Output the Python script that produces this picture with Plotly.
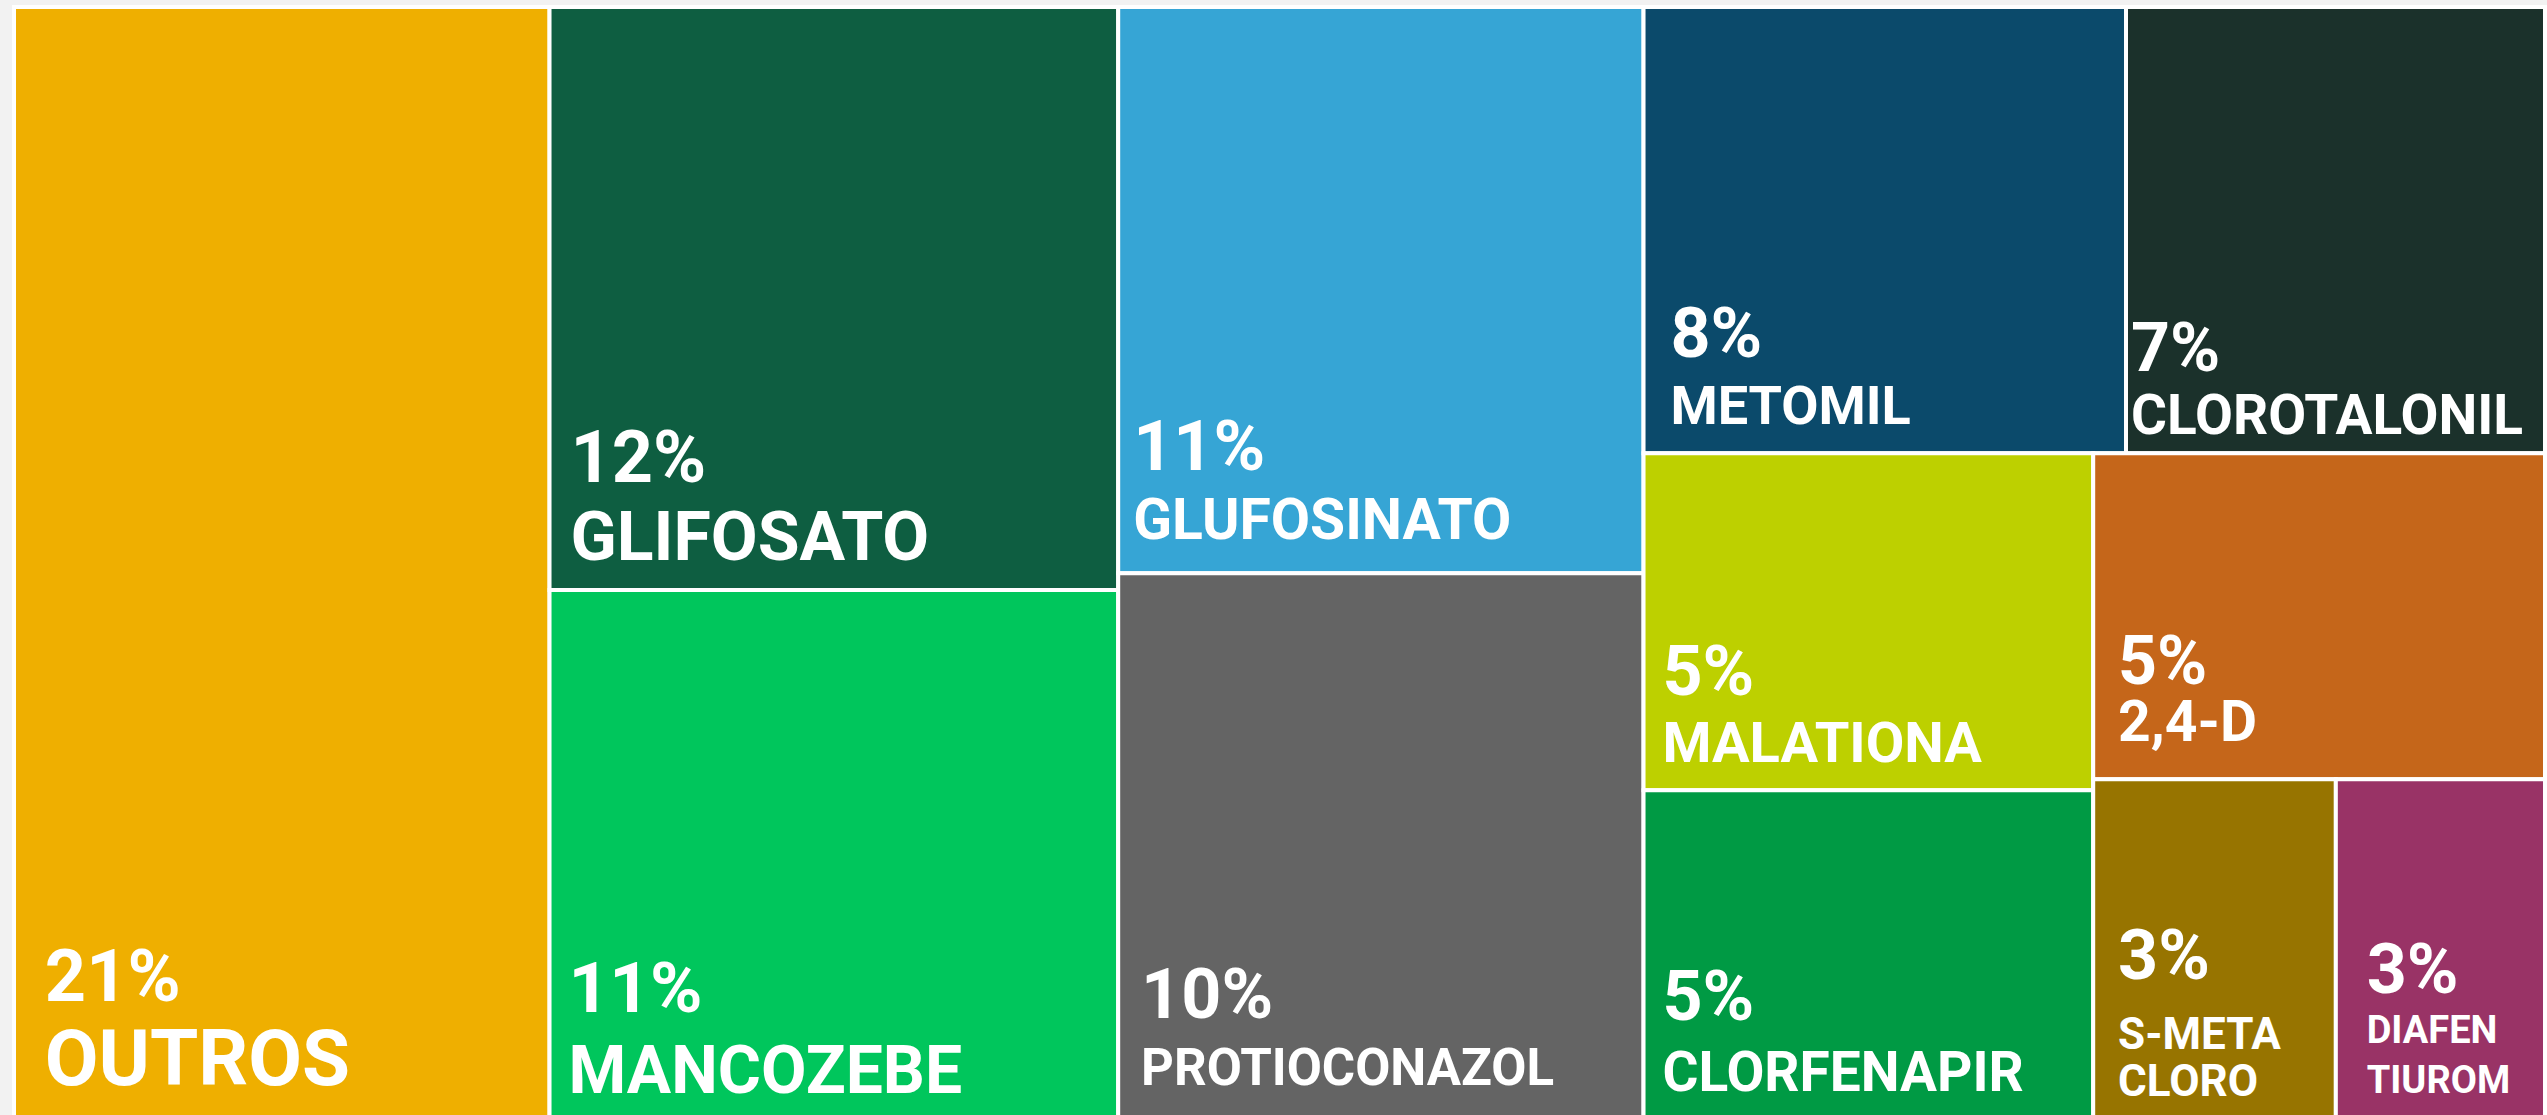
import plotly.graph_objects as go

# ---- data ----
names = ["OUTROS", "GLIFOSATO", "MANCOZEBE", "GLUFOSINATO", "PROTIOCONAZOL",
         "METOMIL", "CLOROTALONIL", "MALATIONA", "CLORFENAPIR", "2,4-D",
         "S-META CLORO", "DIAFEN TIUROM"]
shares = [21.0, 11.7, 10.6, 10.5, 10.1, 7.6, 6.6, 5.35, 5.2, 5.2, 2.9, 2.5]
pct_labels = [21, 12, 11, 11, 10, 8, 7, 5, 5, 5, 3, 3]

# ---- styles ----
colors = ["#EFAF00", "#0E5E41", "#00C65C", "#36A5D5", "#646464", "#0B4A6B",
          "#1B312B", "#BDD000", "#009A44", "#C5661A", "#977400", "#993366"]
two_line = [False, False, False, False, False, False, False, False, False, False, True, True]
pct_size = [72, 72, 71, 70, 70, 70, 68, 70, 70, 68, 70, 70]
label_size = [78, 68, 66, 57, 51, 54, 55, 56, 55, 57, 44, 38]
line_unit = [28, 26, 27, 22.7, 22.3, 22.3, 21, 22.3, 23.7, 19, 23.5, 25]
gap_lines = [3, 3, 3, 3, 3, 3, 3, 3, 3, 3, 3, 2]
label_gap = [2, 2, 2, 2, 2, 2, 2, 2, 2, 2, 2, 2]
indent = [28, 18, 15, 12, 20, 23, 2, 15, 15, 22, 22, 27]
bottom_room = [30, 26.6, 22, 31.5, 30, 26.6, 16, 25, 24, 34.7, 19, 22]

NBSP = "\u00a0"
DESC = 0.244  # descent of the font, in em


def build_text(i):
    n_pad = max(1, round(indent[i] / (0.2476 * 8)))
    pad = "<span style='font-size:8px'>" + NBSP * n_pad + "</span>"
    parts = [pad + "<span style='font-size:%dpx'>%d%%</span>" % (pct_size[i], pct_labels[i])]
    parts += [""] * (gap_lines[i] - 1)
    words = names[i].split(" ") if two_line[i] else [names[i]]
    for k, w in enumerate(words):
        if k > 0:
            parts += [""] * (label_gap[i] - 1)
        parts.append(pad + "<span style='font-size:%dpx'>%s</span>" % (label_size[i], w))
    room = bottom_room[i]
    if room > line_unit[i]:
        size = max(2.0, (room - line_unit[i]) / DESC)
        parts.append("<span style='font-size:%.1fpx'>%s</span>" % (size, NBSP))
    elif room / DESC > label_size[i]:
        parts[-1] += "<span style='font-size:%.1fpx'>%s</span>" % (room / DESC, NBSP)
    return "<br>".join(parts)


texts = [build_text(i) for i in range(len(names))]
base_sizes = [u / 1.3 for u in line_unit]

fig = go.Figure(go.Treemap(
    labels=names,
    parents=[""] * len(names),
    values=shares,
    text=texts,
    textinfo="text",
    textposition="bottom left",
    sort=False,
    tiling=dict(packing="squarify", squarifyratio=1, pad=0),
    marker=dict(colors=colors, line=dict(color="white", width=4),
                pad=dict(t=0, l=0, r=0, b=0)),
    textfont=dict(family="Roboto", size=base_sizes, color="white", weight="bold"),
    root=dict(color="rgba(0,0,0,0)"),
    pathbar=dict(visible=False),
    hoverinfo="label+value",
))

fig.update_layout(
    width=2547, height=1118,
    margin=dict(l=14, r=2, t=7, b=0),
    paper_bgcolor="#f2f2f2",
)

fig.write_html(
    "out.html",
    config={"displayModeBar": False},
    post_script="document.body.style.margin='0';document.body.style.overflow='hidden';document.body.style.background='#f2f2f2';",
)
